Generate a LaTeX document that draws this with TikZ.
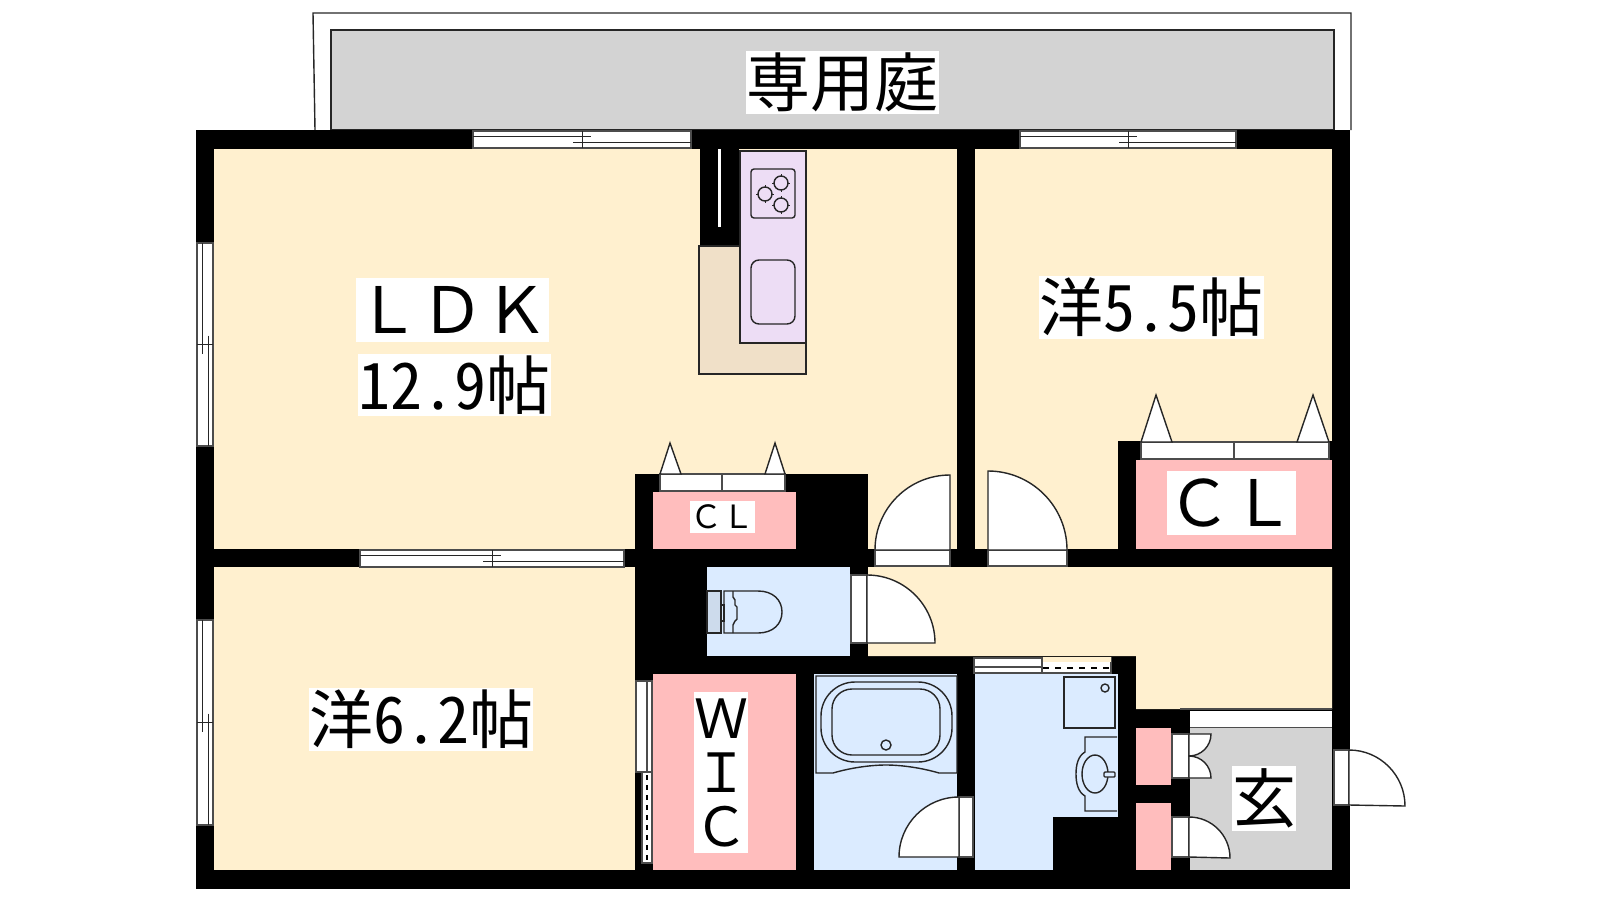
\documentclass[tikz,border=0pt]{standalone}
\usepackage{fontspec}
\setmainfont{Noto Sans CJK JP}
\newfontfamily\hwfont[RawFeature=+hwid]{Noto Sans CJK JP}
\usepackage{tikz}
\definecolor{creamroom}{RGB}{255,240,207}
\definecolor{pinkroom}{RGB}{255,189,189}
\definecolor{blueroom}{RGB}{219,235,255}
\definecolor{lilactop}{RGB}{237,221,245}
\definecolor{tantop}{RGB}{240,224,200}
\definecolor{grayfloor}{RGB}{211,211,211}
\tikzset{
  plan/.style={x=1pt,y=-1pt},
  fineline/.style={draw=black!85,line width=1.4pt},
  thinline/.style={draw=black!70,line width=1.2pt},
  leaf/.style={fineline,fill=white},
  frameleaf/.style={thinline,fill=white},
  labelbox/.style={fill=white,inner sep=0pt,anchor=center,align=center},
}
\begin{document}
\begin{tikzpicture}[plan]
  \useasboundingbox (0,0) rectangle (1600,900);

  \draw[fineline] (315,130) -- (313,13) -- (1351,13) -- (1351,130);
  \filldraw[fineline,fill=grayfloor] (331,130) -- (331,30) -- (1334,30) -- (1334,130) -- cycle;

  \fill[black] (196,130) rectangle (1350,889);

  \foreach \xa/\ya/\xb/\yb in {214/149/957/549, 975/149/1332/549, 214/567/635/870}
    \fill[creamroom] (\xa,\ya) rectangle (\xb,\yb);
  \fill[creamroom] (868,567) -- (1332,567) -- (1332,709) -- (1136,709) -- (1136,656) -- (868,656) -- cycle;
  \fill[grayfloor] (1190,728) rectangle (1332,870);
  \fill[black] (635,474) rectangle (868,549);
  \fill[black] (1118,441) rectangle (1332,549);
  \foreach \xa/\ya/\xb/\yb in {653/492/796/549, 1136/460/1332/549, 653/674/796/870, 1136/728/1171/785, 1136/803/1171/870}
    \fill[pinkroom] (\xa,\ya) rectangle (\xb,\yb);
  \foreach \xa/\ya/\xb/\yb in {707/567/850/656, 814/674/957/870, 975/674/1118/817, 975/817/1053/870}
    \fill[blueroom] (\xa,\ya) rectangle (\xb,\yb);

  \foreach \xa/\xb/\ya in {473/691/130, 1020/1236/130, 360/624/549}{
    \pgfmathsetmacro{\xm}{(\xa+\xb)/2}
    \filldraw[frameleaf] (\xa,\ya+1) rectangle (\xb,\ya+18);
    \draw[fineline,line width=1pt] (\xa,\ya+6) -- (\xm+9,\ya+6);
    \draw[fineline,line width=1pt] (\xm-9,\ya+12) -- (\xb,\ya+12);
    \draw[fineline,line width=1pt] (\xm,\ya+1) -- (\xm,\ya+18);
  }
  \foreach \ya/\yb in {243/446, 620/825}{
    \pgfmathsetmacro{\ym}{(\ya+\yb)/2}
    \filldraw[frameleaf] (197,\ya) rectangle (213,\yb);
    \draw[fineline,line width=1pt] (202,\ya) -- (202,\ym+9);
    \draw[fineline,line width=1pt] (208,\ym-9) -- (208,\yb);
    \draw[fineline,line width=1pt] (197,\ym) -- (213,\ym);
  }

  \filldraw[frameleaf] (636,681) rectangle (652,772);
  \draw[thinline] (647,681) -- (647,772);
  \fill[white] (642,772) rectangle (652,863);
  \draw[thinline] (642,772) -- (642,863) -- (652,863) -- (652,772) -- cycle;
  \draw[black,line width=1.4pt,dash pattern=on 5pt off 5pt] (647,775) -- (647,862);

  \filldraw[frameleaf] (974,658) rectangle (1111,673);
  \draw[thinline] (974,667) -- (1042,667);
  \draw[thinline] (1042,658) -- (1042,673);
  \fill[creamroom] (1043,657) rectangle (1111,662);
  \draw[black,line width=1.4pt,dash pattern=on 6pt off 6pt] (1043,668) -- (1111,668);

  \fill[black] (700,149) rectangle (739,246);
  \fill[white] (718,149) rectangle (721,227);
  \filldraw[fineline,fill=tantop] (699,246) -- (740,246) -- (740,343) -- (806,343) -- (806,374) -- (699,374) -- cycle;
  \filldraw[fineline,fill=lilactop] (740,151) rectangle (806,343);
  \draw[fineline,rounded corners=3pt] (751,169) rectangle (795,218);
  \foreach \cx/\cy in {765/194, 781/183, 781/205}{
    \draw[fineline] (\cx,\cy) circle (7);
    \draw[fineline,line width=.8pt] (\cx-9,\cy) -- (\cx-7,\cy) (\cx+7,\cy) -- (\cx+9,\cy) (\cx,\cy-9) -- (\cx,\cy-7) (\cx,\cy+7) -- (\cx,\cy+9);
  }
  \draw[fineline,rounded corners=8pt] (751,260) rectangle (795,324);

  \foreach \xa/\xb/\xm/\ya/\yb in {660/785/722/474/491, 1141/1329/1234/442/459}{
    \filldraw[frameleaf] (\xa,\ya) rectangle (\xb,\yb);
    \draw[thinline] (\xm,\ya) -- (\xm,\yb);
  }
  \foreach \xa/\xb/\xc/\ya/\yb in {660/670/681/474/443, 765/775/785/474/443, 1141/1156/1172/442/395, 1297/1313/1329/442/395}
    \filldraw[leaf,line join=miter] (\xa,\ya) -- (\xb,\yb) -- (\xc,\ya) -- cycle;

  \filldraw[frameleaf] (875,550) rectangle (950,566);
  \filldraw[leaf] (875,550) arc[start angle=180,end angle=270,radius=75] -- (950,550) -- cycle;
  \filldraw[frameleaf] (988,550) rectangle (1067,566);
  \filldraw[leaf] (988,471) arc[start angle=270,end angle=360,radius=79] -- (988,550) -- cycle;

  \filldraw[frameleaf] (851,575) rectangle (867,643);
  \filldraw[leaf] (867,575) arc[start angle=270,end angle=360,radius=68] -- (867,643) -- cycle;

  \filldraw[frameleaf] (959,797) rectangle (973,857);
  \filldraw[leaf] (899,857) arc[start angle=180,end angle=270,radius=60] -- (959,857) -- cycle;

  \filldraw[frameleaf] (1172,734) rectangle (1189,778);
  \filldraw[leaf] (1189,734) -- (1211,734) arc[start angle=0,end angle=90,radius=22] -- cycle;
  \filldraw[leaf] (1189,756) arc[start angle=270,end angle=360,radius=22] -- (1189,778) -- cycle;

  \filldraw[frameleaf] (1172,817) rectangle (1189,857);
  \filldraw[leaf] (1189,817) arc[start angle=270,end angle=360,radius=41] -- (1189,857) -- cycle;

  \filldraw[frameleaf] (1334,750) rectangle (1349,805);
  \filldraw[leaf] (1349,750) arc[start angle=270,end angle=360,radius=56] -- (1349,805) -- cycle;

  \fill[white] (1190,711) rectangle (1332,727);
  \draw[thinline] (1180,709) -- (1332,709);
  \draw[thinline] (1190,727.5) -- (1332,727.5);

  \filldraw[fineline,fill=blueroom!85!gray] (707,591) rectangle (721,633);
  \draw[fineline] (721,605) rectangle (724,621);
  \draw[fineline] (758,591) .. controls (773,591) and (782,600) .. (782,612) .. controls (782,624) and (773,633) .. (758,633) -- (724,633) -- (724,591) -- cycle;
  \draw[fineline] (733,591) -- (733,597) -- (735,600) -- (735,605) -- (737,607) -- (737,619) -- (735,621) -- (733,625) -- (733,633);

  \draw[fineline] (816,676) -- (816,773) -- (833,773) .. controls (850,768) and (870,765) .. (886,765) .. controls (902,765) and (922,768) .. (939,773) -- (957,773) -- (957,676) -- cycle;
  \draw[fineline,rounded corners=34pt] (821,682) rectangle (952,762);
  \draw[fineline,rounded corners=20pt] (832,689) rectangle (940,755);
  \draw[fineline] (886,745) circle (5);

  \draw[fineline] (1064,677) rectangle (1115,728);
  \draw[fineline] (1105,688) circle (4);
  \draw[fineline] (1117,737) -- (1085,737) -- (1085,752) .. controls (1078,756) and (1076,765) .. (1076,774) .. controls (1076,783) and (1078,792) .. (1085,796) -- (1085,811) -- (1117,811);
  \draw[fineline] (1095,774) ellipse (13 and 19);
  \draw[fineline,fill=blueroom,rounded corners=1pt] (1104,772) rectangle (1115,777);

  \node[labelbox,minimum width=193pt,minimum height=63pt,font=\fontsize{64}{64}\selectfont] (garden) at (842.5,82.5) {専用庭};
  \node[labelbox,minimum width=193pt,minimum height=64pt,font=\fontsize{64}{64}\selectfont] (ldk) at (452.5,310) {ＬＤＫ};
  \node[labelbox,minimum width=193pt,minimum height=62pt,font=\fontsize{64}{64}\selectfont] (ldksize) at (454.5,385) {\hwfont 12.9\normalfont 帖};
  \node[labelbox,minimum width=225pt,minimum height=63pt,font=\fontsize{64}{64}\selectfont] (bedone) at (1151.5,307.5) {洋\hwfont 5.5\normalfont 帖};
  \node[labelbox,minimum width=224pt,minimum height=63pt,font=\fontsize{64}{64}\selectfont] (bedtwo) at (421,719.5) {洋\hwfont 6.2\normalfont 帖};
  \node[labelbox,minimum width=129pt,minimum height=64pt,font=\fontsize{64}{64}\selectfont] (clbig) at (1231.5,503) {ＣＬ};
  \node[labelbox,minimum width=65pt,minimum height=32pt,font=\fontsize{32}{32}\selectfont] (clsmall) at (722.5,517) {ＣＬ};
  \node[labelbox,minimum width=54pt,minimum height=161pt,font=\fontsize{54}{54}\selectfont] (wic) at (721,772.5) {Ｗ\\[0pt]Ｉ\\[0pt]Ｃ};
  \node[labelbox,minimum width=64pt,minimum height=65pt,font=\fontsize{64}{64}\selectfont] (entry) at (1264,798.5) {玄};
\end{tikzpicture}
\end{document}
